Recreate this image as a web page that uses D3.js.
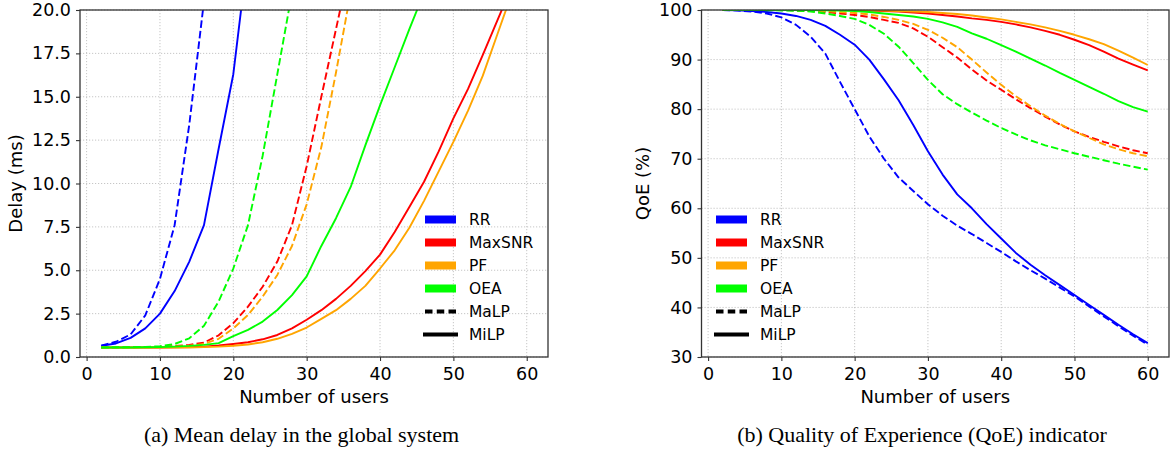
<!DOCTYPE html>
<html>
<head>
<meta charset="utf-8">
<script src="https://cdn.jsdelivr.net/npm/d3@7"></script>
<style>
  body { margin: 0; background: #fff; }
  svg { display: block; }
  .tick text { font-family: "DejaVu Sans", sans-serif; font-size: 17.5px; fill: #000; }
  .axis-label { font-family: "DejaVu Sans", sans-serif; font-size: 18px; fill: #000; }
  .legend text { font-family: "DejaVu Sans", sans-serif; font-size: 15.5px; fill: #000; }
  .caption { font-family: "Liberation Serif", "Times New Roman", serif; font-size: 22px; fill: #000; }
</style>
</head>
<body>
<div id="chart"></div>
<script>
// Number of users (x values)
const users = [2, 4, 6, 8, 10, 12, 14, 16, 18, 20, 22, 24, 26, 28, 30,
               32, 34, 36, 38, 40, 42, 44, 46, 48, 50, 52, 54, 56, 58, 60];

// Mean delay (ms), series stop once they leave the 0-20 window
const delayRrMalp = [0.65, 0.88, 1.3, 2.4, 4.5, 7.6, 13.4, 20.5];
const delayRrMilp = [0.65, 0.78, 1.1, 1.65, 2.5, 3.8, 5.5, 7.6, 12.0, 16.3, 23.3];
const delayMaxsnrMalp = [0.55, 0.55, 0.56, 0.57, 0.59, 0.63, 0.7, 0.83, 1.25, 1.95, 2.9, 4.05, 5.5, 7.6, 11.0, 15.0, 18.9, 22.8];
const delayMaxsnrMilp = [0.55, 0.55, 0.55, 0.55, 0.55, 0.56, 0.57, 0.6, 0.66, 0.75, 0.85, 1.02, 1.27, 1.65, 2.15,
                         2.7, 3.35, 4.1, 4.95, 5.9, 7.2, 8.65, 10.1, 11.85, 13.75, 15.45, 17.4, 19.4, 21.4];
const delayPfMalp = [0.55, 0.55, 0.55, 0.56, 0.57, 0.6, 0.65, 0.75, 1.05, 1.65, 2.42, 3.48, 4.73, 6.4, 8.8, 12.1, 16.4, 21.0];
const delayPfMilp = [0.55, 0.55, 0.55, 0.55, 0.55, 0.55, 0.55, 0.57, 0.6, 0.65, 0.72, 0.85, 1.05, 1.33, 1.7,
                     2.2, 2.7, 3.35, 4.1, 5.1, 6.15, 7.45, 9.0, 10.7, 12.4, 14.2, 16.2, 18.6, 21.0];
const delayOeaMalp = [0.55, 0.56, 0.57, 0.58, 0.62, 0.75, 1.08, 1.8, 3.2, 5.1, 7.6, 11.6, 16.3, 21.0];
const delayOeaMilp = [0.55, 0.55, 0.55, 0.56, 0.57, 0.6, 0.64, 0.7, 0.8, 1.2, 1.56, 2.04, 2.71, 3.57, 4.65,
                      6.4, 8.0, 9.8, 12.2, 14.5, 16.7, 18.9, 21.0];

// QoE (%)
const qoeRrMalp = [100, 99.9, 99.7, 99.3, 98.5, 97.0, 94.6, 91.2, 85.5, 80.0, 74.5, 70.0, 66.2, 63.5, 60.8,
                   58.5, 56.5, 54.8, 53.0, 51.2, 49.3, 47.5, 45.8, 44.0, 42.2, 40.2, 38.2, 36.2, 34.3, 32.5];
const qoeRrMilp = [100, 99.95, 99.8, 99.6, 99.3, 98.8, 98.0, 96.8, 95.0, 93.0, 90.0, 86.0, 81.8, 76.8, 71.5,
                   66.8, 62.8, 60.0, 56.8, 53.9, 51.0, 48.6, 46.5, 44.5, 42.5, 40.5, 38.5, 36.5, 34.6, 32.8];
const qoeMaxsnrMalp = [100, 100, 100, 100, 100, 99.9, 99.8, 99.6, 99.3, 99.0, 98.6, 98.0, 97.4, 96.3, 94.6,
                       92.5, 90.4, 88.0, 85.8, 83.9, 82.0, 80.2, 78.5, 76.9, 75.5, 74.4, 73.4, 72.5, 71.7, 71.1];
const qoeMaxsnrMilp = [100, 100, 100, 100, 100, 100, 100, 100, 100, 100, 99.9, 99.8, 99.7, 99.5, 99.3,
                       99.0, 98.7, 98.3, 98.0, 97.6, 97.1, 96.5, 95.8, 95.0, 94.0, 92.9, 91.6, 90.2, 89.0, 87.8];
const qoePfMalp = [100, 100, 100, 100, 100, 100, 99.9, 99.8, 99.6, 99.4, 99.1, 98.6, 98.0, 97.2, 96.0,
                   94.4, 92.5, 90.0, 87.4, 84.9, 82.6, 80.6, 78.7, 77.0, 75.5, 74.2, 72.9, 71.9, 71.1, 70.5];
const qoePfMilp = [100, 100, 100, 100, 100, 100, 100, 100, 100, 100, 100, 99.9, 99.8, 99.7, 99.6,
                   99.4, 99.2, 98.9, 98.5, 98.1, 97.6, 97.1, 96.5, 95.8, 95.0, 94.1, 93.1, 91.8, 90.4, 88.9];
const qoeOeaMalp = [100, 100, 100, 99.95, 99.9, 99.85, 99.7, 99.3, 98.8, 98.2, 97.0, 95.2, 92.6, 89.3, 85.9,
                    83.0, 81.0, 79.3, 77.7, 76.2, 74.9, 73.7, 72.7, 71.9, 71.1, 70.4, 69.7, 69.0, 68.4, 67.8];
const qoeOeaMilp = [100, 100, 100, 100, 100, 100, 100, 99.95, 99.9, 99.8, 99.6, 99.3, 99.0, 98.7, 98.2,
                    97.5, 96.6, 95.3, 94.2, 92.9, 91.6, 90.2, 88.8, 87.3, 85.9, 84.5, 83.1, 81.6, 80.4, 79.5];

// Tick labels
const xTicks = [0, 10, 20, 30, 40, 50, 60];
const delayTicks = [0, 2.5, 5, 7.5, 10, 12.5, 15, 17.5, 20];
const qoeTicks = [30, 40, 50, 60, 70, 80, 90, 100];

// Legend
const schemes = ["RR", "MaxSNR", "PF", "OEA"];
const schemeColors = ["#0000ff", "#ff0000", "#ffa500", "#00ff00"];
const policies = ["MaLP", "MiLP"];

const DASH = "7.4,3.2";

const svg = d3.select("#chart")
    .append("svg")
    .attr("width", 1170)
    .attr("height", 451);

svg.append("rect").attr("width", 1170).attr("height", 451).attr("fill", "#fff");

// Draw one subplot
const drawPanel = (cfg) => {
    const { id, left, right, top, bottom, yDomain, yTicks, yFormat, series, yLabel, yLabelX, legendX, caption, captionX } = cfg;

    const x = d3.scaleLinear().domain([-0.9, 62.9]).range([left, right]);
    const y = d3.scaleLinear().domain(yDomain).range([bottom, top]);

    const g = svg.append("g");

    // grid
    g.append("g")
        .selectAll("line.vx")
        .data(xTicks)
        .join("line")
        .attr("x1", d => x(d)).attr("x2", d => x(d))
        .attr("y1", top).attr("y2", bottom)
        .attr("stroke", "#b8b8b8").attr("stroke-width", 0.8)
        .attr("stroke-dasharray", "1.2,1.8");

    g.append("g")
        .selectAll("line.hy")
        .data(yTicks)
        .join("line")
        .attr("x1", left).attr("x2", right)
        .attr("y1", d => y(d)).attr("y2", d => y(d))
        .attr("stroke", "#b8b8b8").attr("stroke-width", 0.8)
        .attr("stroke-dasharray", "1.2,1.8");

    // clip
    svg.append("clipPath").attr("id", `clip-${id}`)
        .append("rect")
        .attr("x", left).attr("y", top)
        .attr("width", right - left).attr("height", bottom - top);

    const line = d3.line()
        .x((d, i) => x(users[i]))
        .y(d => y(d));

    g.append("g")
        .attr("clip-path", `url(#clip-${id})`)
        .selectAll("path")
        .data(series)
        .join("path")
        .attr("d", d => line(d.values))
        .attr("fill", "none")
        .attr("stroke", d => d.color)
        .attr("stroke-width", 1.9)
        .attr("stroke-linejoin", "round")
        .attr("stroke-dasharray", d => d.dashed ? DASH : null);

    // axes
    const xAxis = d3.axisBottom(x).tickValues(xTicks).tickFormat(d3.format("d"))
        .tickSize(4).tickSizeOuter(0).tickPadding(7);
    const yAxis = d3.axisLeft(y).tickValues(yTicks).tickFormat(d3.format(yFormat))
        .tickSize(4).tickSizeOuter(0).tickPadding(5);

    const gx = g.append("g").attr("transform", `translate(0,${bottom})`).call(xAxis);
    const gy = g.append("g").attr("transform", `translate(${left},0)`).call(yAxis);
    [gx, gy].forEach(a => {
        a.select(".domain").remove();
        a.selectAll(".tick line").attr("stroke", "#333").attr("stroke-width", 1.1);
    });

    // frame
    g.append("rect")
        .attr("x", left).attr("y", top)
        .attr("width", right - left).attr("height", bottom - top)
        .attr("fill", "none").attr("stroke", "#333").attr("stroke-width", 1.3);

    // labels
    g.append("text").attr("class", "axis-label")
        .attr("x", (left + right) / 2).attr("y", 403)
        .attr("text-anchor", "middle")
        .text("Number of users");

    g.append("text").attr("class", "axis-label")
        .attr("transform", `translate(${yLabelX},${(top + bottom) / 2}) rotate(-90)`)
        .attr("text-anchor", "middle")
        .attr("dy", "0.35em")
        .text(yLabel);

    // legend
    const lg = g.append("g").attr("class", "legend");
    const rowY = i => 219.5 + i * 23;
    schemes.forEach((s, i) => {
        lg.append("rect")
            .attr("x", legendX).attr("y", rowY(i) - 4)
            .attr("width", 31).attr("height", 8)
            .attr("fill", schemeColors[i]);
        lg.append("text").attr("x", legendX + 44).attr("y", rowY(i)).attr("dy", "0.36em").text(s);
    });
    policies.forEach((p, j) => {
        const i = schemes.length + j;
        lg.append("line")
            .attr("x1", p === "MaLP" ? legendX : legendX - 2).attr("x2", p === "MaLP" ? legendX + 31 : legendX + 33)
            .attr("y1", rowY(i)).attr("y2", rowY(i))
            .attr("stroke", "#000").attr("stroke-width", 4)
            .attr("stroke-dasharray", p === "MaLP" ? "7.5,4.25" : null);
        lg.append("text").attr("x", legendX + 44).attr("y", rowY(i)).attr("dy", "0.36em").text(p);
    });

    // caption
    svg.append("text").attr("class", "caption")
        .attr("x", captionX).attr("y", 441.5)
        .attr("text-anchor", "middle")
        .text(caption);
};

drawPanel({
    id: "delay",
    left: 80, right: 548, top: 10, bottom: 357,
    yDomain: [0, 20], yTicks: delayTicks, yFormat: ".1f",
    yLabel: "Delay (ms)", yLabelX: 16,
    legendX: 425,
    caption: "(a) Mean delay in the global system", captionX: 301.5,
    series: [
        { values: delayRrMalp, color: schemeColors[0], dashed: true },
        { values: delayRrMilp, color: schemeColors[0], dashed: false },
        { values: delayMaxsnrMalp, color: schemeColors[1], dashed: true },
        { values: delayMaxsnrMilp, color: schemeColors[1], dashed: false },
        { values: delayPfMalp, color: schemeColors[2], dashed: true },
        { values: delayPfMilp, color: schemeColors[2], dashed: false },
        { values: delayOeaMalp, color: schemeColors[3], dashed: true },
        { values: delayOeaMilp, color: schemeColors[3], dashed: false }
    ]
});

drawPanel({
    id: "qoe",
    left: 701.5, right: 1169, top: 10, bottom: 357,
    yDomain: [30, 100], yTicks: qoeTicks, yFormat: "d",
    yLabel: "QoE (%)", yLabelX: 643,
    legendX: 716,
    caption: "(b) Quality of Experience (QoE) indicator", captionX: 922,
    series: [
        { values: qoeRrMalp, color: schemeColors[0], dashed: true },
        { values: qoeRrMilp, color: schemeColors[0], dashed: false },
        { values: qoeMaxsnrMalp, color: schemeColors[1], dashed: true },
        { values: qoeMaxsnrMilp, color: schemeColors[1], dashed: false },
        { values: qoePfMalp, color: schemeColors[2], dashed: true },
        { values: qoePfMilp, color: schemeColors[2], dashed: false },
        { values: qoeOeaMalp, color: schemeColors[3], dashed: true },
        { values: qoeOeaMilp, color: schemeColors[3], dashed: false }
    ]
});
</script>
</body>
</html>
